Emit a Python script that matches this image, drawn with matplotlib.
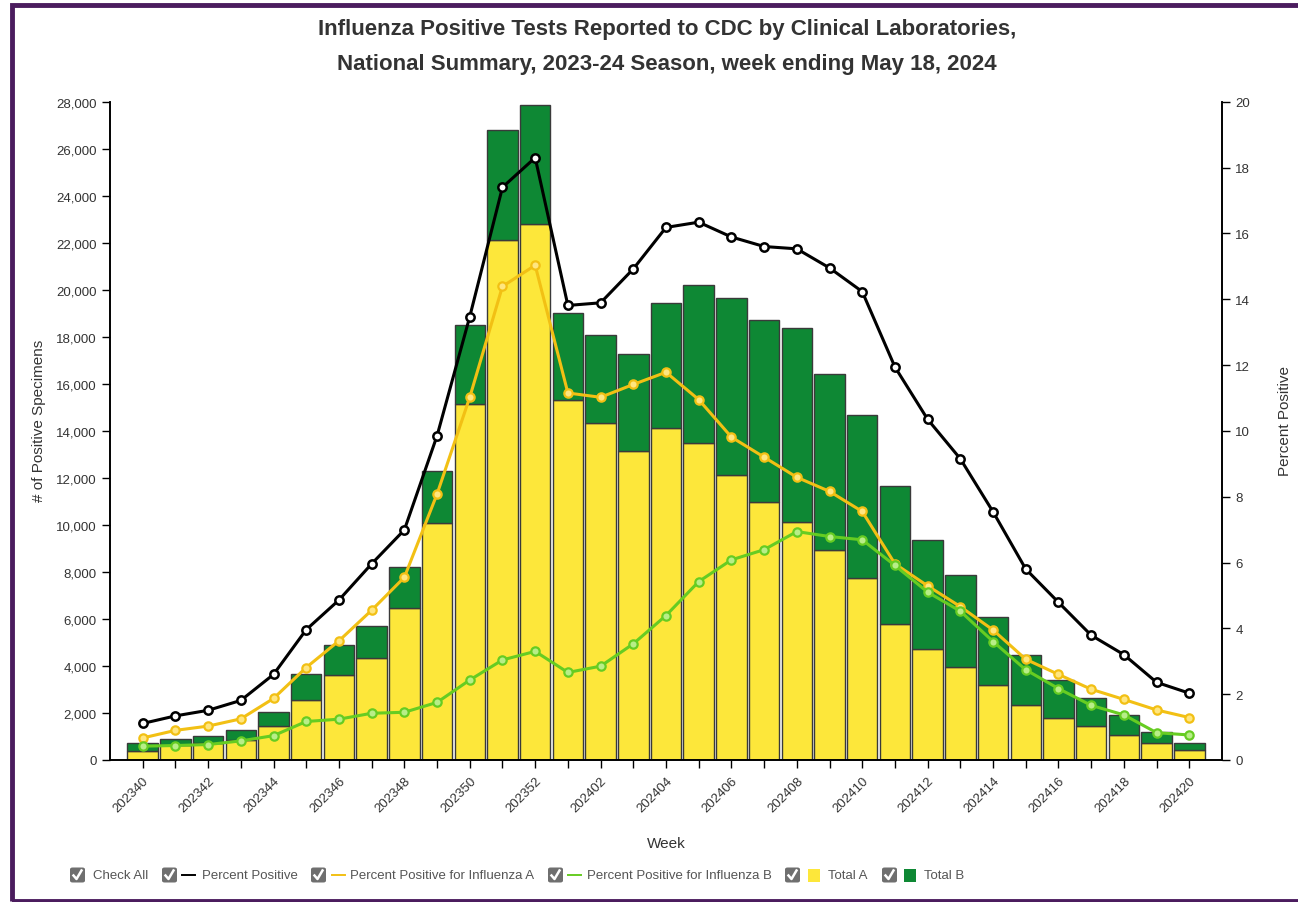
import matplotlib.pyplot as plt
from matplotlib.patches import Rectangle, FancyBboxPatch
from matplotlib.lines import Line2D
from matplotlib.ticker import FuncFormatter

weeks = ['202340', '202341', '202342', '202343', '202344', '202345', '202346', '202347',
         '202348', '202349', '202350', '202351', '202352', '202401', '202402', '202403',
         '202404', '202405', '202406', '202407', '202408', '202409', '202410', '202411',
         '202412', '202413', '202414', '202415', '202416', '202417', '202418', '202419',
         '202420']
total_a = [400, 620, 720, 830, 1447, 2540, 3617, 4327, 6485, 10072, 15160, 22097, 22808,
           15305, 14326, 13161, 14127, 13488, 12127, 10991, 10114, 8935, 7757, 5800,
           4740, 3957, 3178, 2327, 1804, 1447, 1051, 740, 426]
total_b = [323, 260, 288, 434, 583, 1136, 1293, 1362, 1744, 2225, 3363, 4696, 5062,
           3715, 3758, 4101, 5305, 6736, 7544, 7731, 8254, 7476, 6935, 5872,
           4608, 3915, 2924, 2158, 1587, 1178, 864, 451, 314]
pct_pos = [1.11, 1.34, 1.51, 1.81, 2.60, 3.96, 4.86, 5.96, 6.99, 9.85, 13.47, 17.40, 18.30,
           13.81, 13.89, 14.92, 16.18, 16.34, 15.89, 15.60, 15.53, 14.95, 14.23, 11.94,
           10.35, 9.15, 7.54, 5.80, 4.79, 3.79, 3.20, 2.36, 2.03]
pct_a = [0.67, 0.90, 1.03, 1.25, 1.87, 2.81, 3.62, 4.55, 5.55, 8.08, 11.02, 14.39, 15.03,
         11.15, 11.02, 11.41, 11.78, 10.95, 9.81, 9.20, 8.59, 8.16, 7.55, 5.96,
         5.29, 4.66, 3.95, 3.06, 2.60, 2.15, 1.84, 1.52, 1.29]
pct_b = [0.42, 0.44, 0.47, 0.58, 0.74, 1.17, 1.24, 1.42, 1.45, 1.75, 2.43, 3.04, 3.30,
         2.66, 2.85, 3.53, 4.39, 5.42, 6.08, 6.39, 6.94, 6.79, 6.69, 5.91,
         5.10, 4.52, 3.60, 2.74, 2.17, 1.66, 1.37, 0.83, 0.76]

YELLOW = '#fde73a'
GREEN = '#0e8834'
LINE_A = '#f2c014'
LINE_B = '#66cc22'
TXT = '#333333'

plt.rcParams['font.family'] = ['Liberation Sans', 'DejaVu Sans']

W, H = 1298, 903
fig = plt.figure(figsize=(W / 100, H / 100), dpi=100)
ax = fig.add_axes([110 / W, (H - 761) / H, (1222 - 110) / W, (761 - 102.7) / H])
ax2 = ax.twinx()

x = list(range(len(weeks)))
ax.bar(x, total_a, width=0.93, color=YELLOW, edgecolor='#3a3a3a', linewidth=1)
ax.bar(x, total_b, width=0.93, bottom=total_a, color=GREEN, edgecolor='#3a3a3a', linewidth=1)

ax2.plot(x, pct_pos, color='black', lw=2.2, marker='o', ms=6, mfc='white', mec='black', mew=1.8)
ax2.plot(x, pct_a, color=LINE_A, lw=2.2, marker='o', ms=6, mfc='#ffe680', mec=LINE_A, mew=1.6)
ax2.plot(x, pct_b, color=LINE_B, lw=2.2, marker='o', ms=6, mfc='#b8ee88', mec=LINE_B, mew=1.6)

ax.set_xlim(-1, 33)
ax.set_ylim(0, 28000)
ax2.set_ylim(0, 20)
ax.set_yticks(range(0, 28001, 2000))
ax.yaxis.set_major_formatter(FuncFormatter(lambda v, p: f'{int(v):,}'))
ax2.set_yticks(range(0, 21, 2))

ax.set_xticks(x)
ax.set_xticklabels([w if i % 2 == 0 else '' for i, w in enumerate(weeks)],
                   rotation=45, ha='right', rotation_mode='anchor', fontsize=9.5, color=TXT)
ax.tick_params(axis='y', labelsize=9.5, labelcolor=TXT, length=6, width=1)
ax.tick_params(axis='x', length=6, width=1, pad=4)
ax2.tick_params(axis='y', labelsize=9.5, labelcolor=TXT, length=6, width=1)

for a in (ax, ax2):
    a.spines['top'].set_visible(False)
    for s in ('left', 'right', 'bottom'):
        a.spines[s].set_linewidth(1.2)

ax.set_xlabel('Week', fontsize=11, color=TXT)
ax.xaxis.set_label_coords(0.5, -(837 - 761) / 658)
ax.set_ylabel('# of Positive Specimens', fontsize=11, color=TXT)
ax.yaxis.set_label_coords((46 - 110) / 1112, 0.517)
ax2.set_ylabel('Percent Positive', fontsize=11, color=TXT)
ax2.yaxis.set_label_coords((1278 - 110) / 1112, 0.517)

fig.text(667 / W, 1 - 35 / H, 'Influenza Positive Tests Reported to CDC by Clinical Laboratories,',
         ha='center', va='baseline', fontsize=16, fontweight='bold', color=TXT)
fig.text(667 / W, 1 - 70 / H, 'National Summary, 2023-24 Season, week ending May 18, 2024',
         ha='center', va='baseline', fontsize=16, fontweight='bold', color=TXT)

# border
fig.patches.append(Rectangle((11.5 / W, 1.5 / H), 1.2, (H - 7.5) / H, transform=fig.transFigure,
                             fill=False, edgecolor='#4b1c5e', linewidth=3.5, zorder=10))

# legend with checkboxes
ly = 1 - 876 / H


def checkbox(px):
    fig.patches.append(FancyBboxPatch((px / W, ly - 7.5 / H), 15 / W, 15 / H,
                                      boxstyle='round,pad=0,rounding_size=0.002',
                                      transform=fig.transFigure, facecolor='#6f6f6f',
                                      edgecolor='none'))
    fig.add_artist(Line2D([(px + 3.5) / W, (px + 6.5) / W, (px + 11.5) / W],
                          [ly - 0.5 / H, ly - 4 / H, ly + 4.5 / H],
                          transform=fig.transFigure, color='white', lw=1.8))


def dash(px, color):
    fig.add_artist(Line2D([px / W, (px + 13) / W], [ly, ly], transform=fig.transFigure,
                          color=color, lw=1.4))


def swatch(px, color):
    fig.patches.append(Rectangle((px / W, ly - 6.5 / H), 12 / W, 13 / H,
                                 transform=fig.transFigure, facecolor=color, edgecolor='none'))


def label(px, s):
    fig.text(px / W, ly, s, ha='left', va='center', fontsize=9.5, color='#555555')


checkbox(70); label(93, 'Check All')
checkbox(162); dash(182, 'black'); label(202, 'Percent Positive')
checkbox(311); dash(332, LINE_A); label(350, 'Percent Positive for Influenza A')
checkbox(548); dash(568, LINE_B); label(587, 'Percent Positive for Influenza B')
checkbox(785); swatch(808, YELLOW); label(828, 'Total A')
checkbox(882); swatch(904, GREEN); label(924, 'Total B')

fig.savefig('out.png', dpi=100)
